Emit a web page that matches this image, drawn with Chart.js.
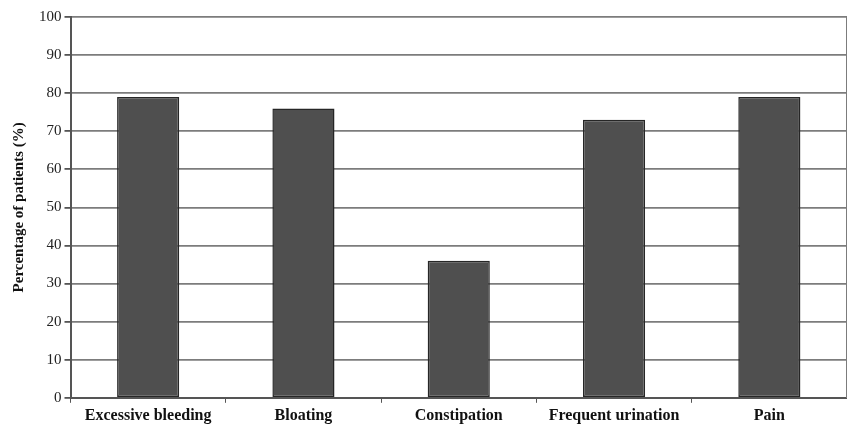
<!DOCTYPE html>
<html>
<head>
<meta charset="utf-8">
<script src="https://cdn.jsdelivr.net/npm/chart.js@4"></script>
<style>
    html, body { margin: 0; padding: 0; background: #ffffff; }
    #wrap { width: 847px; height: 429px; }
</style>
</head>
<body>
<div id="wrap"><canvas id="chart"></canvas></div>
<script>
"use strict";

// Symptoms reported by patients
var categories = ["Excessive bleeding", "Bloating", "Constipation", "Frequent urination", "Pain"];
var percentages = [79, 76, 36, 73, 79];
var yTicks = [0, 10, 20, 30, 40, 50, 60, 70, 80, 90, 100];

var serif = "'Liberation Serif', 'Times New Roman', serif";

new Chart(document.getElementById("chart"), {
    type: "bar",
    data: {
        labels: categories,
        datasets: [{
            data: percentages,
            backgroundColor: "#4f4f4f",
            borderColor: "#262626",
            borderWidth: 1.5,
            borderSkipped: false,
            categoryPercentage: 0.4,
            barPercentage: 1.0
        }]
    },
    options: {
        responsive: true,
        maintainAspectRatio: false,
        animation: false,
        devicePixelRatio: 1,
        layout: {
            padding: { top: 17, right: 0, bottom: 1, left: 10 }
        },
        plugins: {
            legend: { display: false },
            tooltip: { enabled: false }
        },
        scales: {
            x: {
                offset: true,
                grid: {
                    offset: true,
                    drawOnChartArea: false,
                    drawTicks: true,
                    tickLength: 5,
                    color: "#555555",
                    lineWidth: 1
                },
                border: { color: "#555555", width: 2 },
                ticks: {
                    color: "#111111",
                    padding: 3,
                    maxRotation: 0,
                    font: { family: serif, size: 16, weight: "bold" }
                }
            },
            y: {
                min: 0,
                max: 100,
                afterBuildTicks: function (axis) {
                    axis.ticks = yTicks.map(function (v) { return { value: v }; });
                },
                grid: {
                    color: "#7c7c7c",
                    lineWidth: 1.8,
                    tickLength: 6,
                    tickColor: "#555555"
                },
                border: { color: "#555555", width: 2 },
                ticks: {
                    color: "#222222",
                    padding: 3,
                    font: { family: serif, size: 15 }
                },
                title: {
                    display: true,
                    text: "Percentage of patients (%)",
                    color: "#111111",
                    padding: { top: 0, bottom: 8 },
                    font: { family: serif, size: 15, weight: "bold" }
                }
            },
            yRight: {
                position: "right",
                min: 0,
                max: 100,
                grid: { display: false, drawTicks: false },
                ticks: { display: false },
                border: { color: "#7c7c7c", width: 1.5 }
            }
        }
    }
});
</script>
</body>
</html>
